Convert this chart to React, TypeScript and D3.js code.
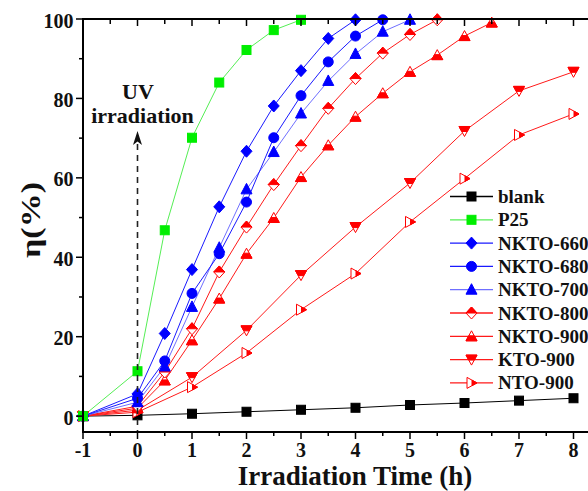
import React from "react";
import * as d3 from "d3";

const xTicks = [-1, 0, 1, 2, 3, 4, 5, 6, 7, 8];
const xMinorTicks = [-0.5, 0.5, 1.5, 2.5, 3.5, 4.5, 5.5, 6.5, 7.5];
const yTicks = [0, 20, 40, 60, 80, 100];
const yMinorTicks = [10, 30, 50, 70, 90];

const blankX = [-1, 0, 1, 2, 3, 4, 5, 6, 7, 8];
const blankY = [0, 0.2, 0.6, 1.1, 1.6, 2.1, 2.8, 3.3, 3.9, 4.5];
const p25X = [-1, 0, 0.5, 1, 1.5, 2, 2.5, 3];
const p25Y = [0, 11.3, 46.8, 70.1, 84.0, 92.2, 97.2, 99.8];
const nkto660X = [-1, 0, 0.5, 1, 1.5, 2, 2.5, 3, 3.5, 4];
const nkto660Y = [0, 5.6, 20.8, 36.9, 52.7, 66.7, 78.1, 87.0, 95.1, 99.8];
const nkto680X = [-1, 0, 0.5, 1, 1.5, 2, 2.5, 3, 3.5, 4, 4.5];
const nkto680Y = [0, 4.5, 13.9, 30.9, 40.9, 53.9, 70.1, 80.7, 89.2, 95.7, 99.8];
const nkto700X = [-1, 0, 0.5, 1, 1.5, 2, 2.5, 3, 3.5, 4, 4.5, 5];
const nkto700Y = [0, 3.5, 12.5, 27.5, 42.4, 57.1, 66.5, 76.2, 84.4, 91.2, 96.8, 99.8];
const nkto800X = [-1, 0, 0.5, 1, 1.5, 2, 2.5, 3, 3.5, 4, 4.5, 5, 5.5];
const nkto800Y = [0, 2.5, 11.1, 22.0, 36.3, 47.6, 58.3, 68.1, 77.5, 85.0, 91.4, 96.1, 99.8];
const nkto900X = [-1, 0, 0.5, 1, 1.5, 2, 2.5, 3, 3.5, 4, 4.5, 5, 5.5, 6, 6.5];
const nkto900Y = [0, 2.0, 9.0, 19.1, 29.6, 40.9, 49.9, 60.2, 68.2, 75.4, 81.3, 86.7, 90.9, 95.7, 99.1];
const kto900X = [-1, 0, 1, 2, 3, 4, 5, 6, 7, 8];
const kto900Y = [0, 1.5, 9.8, 21.6, 35.5, 47.6, 58.7, 71.8, 81.9, 86.7];
const nto900X = [-1, 0, 1, 2, 3, 4, 5, 6, 7, 8];
const nto900Y = [0, 1.0, 7.3, 15.9, 26.8, 35.9, 48.9, 59.8, 70.8, 76.1];

type Sym = "square" | "diamond" | "circle" | "triUp" | "halfDiamond" | "halfTriUp" | "halfTriDown" | "halfTriRight";

interface Series {
  name: string;
  xs: number[];
  ys: number[];
  line: string;
  color: string;
  sym: Sym;
}

const series: Series[] = [
  { name: "blank", xs: blankX, ys: blankY, line: "#000000", color: "#000000", sym: "square" },
  { name: "P25", xs: p25X, ys: p25Y, line: "#55ee55", color: "#00ee00", sym: "square" },
  { name: "NKTO-660", xs: nkto660X, ys: nkto660Y, line: "#1a1aff", color: "#0000ff", sym: "diamond" },
  { name: "NKTO-680", xs: nkto680X, ys: nkto680Y, line: "#1a1aff", color: "#0000ff", sym: "circle" },
  { name: "NKTO-700", xs: nkto700X, ys: nkto700Y, line: "#6f6fff", color: "#0000ff", sym: "triUp" },
  { name: "NKTO-800", xs: nkto800X, ys: nkto800Y, line: "#ff1a1a", color: "#ff0000", sym: "halfDiamond" },
  { name: "NKTO-900", xs: nkto900X, ys: nkto900Y, line: "#ff1a1a", color: "#ff0000", sym: "halfTriUp" },
  { name: "KTO-900", xs: kto900X, ys: kto900Y, line: "#ff1a1a", color: "#ff0000", sym: "halfTriDown" },
  { name: "NTO-900", xs: nto900X, ys: nto900Y, line: "#ff1a1a", color: "#ff0000", sym: "halfTriRight" },
];

const drawOrder = [0, 8, 7, 6, 5, 4, 3, 2, 1];

const W = 588;
const H = 491;
const x = d3.scaleLinear().domain([-1, 8.5]).range([83, 83 + 9.5 * 54.5]);
const y = d3.scaleLinear().domain([-4, 100]).range([432, 19]);

const poly = (pts: [number, number][]) => "M" + pts.map((p) => p.join(",")).join("L") + "Z";

function Marker({ sym, cx, cy, color }: { sym: Sym; cx: number; cy: number; color: string }) {
  const sw = 1;
  switch (sym) {
    case "square":
      return <rect x={cx - 4.5} y={cy - 4.5} width={9} height={9} fill={color} stroke={color} strokeWidth={sw} />;
    case "circle":
      return <circle cx={cx} cy={cy} r={5} fill={color} stroke={color} strokeWidth={sw} />;
    case "diamond":
      return <path d={poly([[cx, cy - 6], [cx + 5.5, cy], [cx, cy + 6], [cx - 5.5, cy]])} fill={color} stroke={color} strokeWidth={sw} />;
    case "triUp":
      return <path d={poly([[cx, cy - 6], [cx + 5.5, cy + 4.5], [cx - 5.5, cy + 4.5]])} fill={color} stroke={color} strokeWidth={sw} />;
    case "halfDiamond":
      return (
        <g>
          <path d={poly([[cx, cy - 6], [cx + 5.5, cy], [cx, cy + 6], [cx - 5.5, cy]])} fill="#fff" stroke={color} strokeWidth={sw} />
          <path d={poly([[cx, cy - 6], [cx + 5.5, cy], [cx - 5.5, cy]])} fill={color} stroke={color} strokeWidth={sw} />
        </g>
      );
    case "halfTriUp": {
      const t = cy - 5.5, b = cy + 4.5, hw = 5.5;
      const m = (t + b) / 2;
      const mw = hw * ((m - t) / (b - t));
      return (
        <g>
          <path d={poly([[cx, t], [cx + hw, b], [cx - hw, b]])} fill="#fff" stroke={color} strokeWidth={sw} />
          <path d={poly([[cx - mw, m], [cx + mw, m], [cx + hw, b], [cx - hw, b]])} fill={color} stroke={color} strokeWidth={sw} />
        </g>
      );
    }
    case "halfTriDown": {
      const t = cy - 4.5, b = cy + 5.5, hw = 5.5;
      const m = (t + b) / 2;
      const mw = hw * ((b - m) / (b - t));
      return (
        <g>
          <path d={poly([[cx - hw, t], [cx + hw, t], [cx, b]])} fill="#fff" stroke={color} strokeWidth={sw} />
          <path d={poly([[cx - hw, t], [cx + hw, t], [cx + mw, m], [cx - mw, m]])} fill={color} stroke={color} strokeWidth={sw} />
        </g>
      );
    }
    case "halfTriRight": {
      const l = cx - 4.5, r = cx + 5.5, hh = 5.5;
      const m = (l + r) / 2;
      const mh = hh * ((r - m) / (r - l));
      return (
        <g>
          <path d={poly([[l, cy - hh], [r, cy], [l, cy + hh]])} fill="#fff" stroke={color} strokeWidth={sw} />
          <path d={poly([[m, cy - mh], [r, cy], [m, cy + mh]])} fill={color} stroke={color} strokeWidth={sw} />
        </g>
      );
    }
  }
  return null;
}

export default function App() {
  const lineGen = d3
    .line<[number, number]>()
    .x((d) => x(d[0]))
    .y((d) => y(d[1]));
  const font = "'Liberation Serif', 'Times New Roman', serif";
  const legX = 450;
  const legY0 = 196.5;
  const legDy = 23.3;
  const arrowX = x(0);

  return (
    <div style={{ position: "absolute", left: 0, top: 0 }}>
      <svg width={W} height={H} style={{ display: "block", background: "#fff" }} fontFamily={font}>
        {drawOrder.map((i) => {
          const s = series[i];
          const pts = s.xs.map((v, k) => [v, s.ys[k]] as [number, number]);
          return (
            <g key={s.name}>
              <path d={lineGen(pts) || ""} fill="none" stroke={s.line} strokeWidth={1} />
            </g>
          );
        })}
        {drawOrder.map((i) => {
          const s = series[i];
          return (
            <g key={s.name + "m"}>
              {s.xs.map((v, k) => (
                <Marker key={k} sym={s.sym} cx={x(v)} cy={y(s.ys[k])} color={s.color} />
              ))}
            </g>
          );
        })}

        <line x1={arrowX} x2={arrowX} y1={144} y2={432} stroke="#222" strokeWidth={1.6} strokeDasharray="6,5" />
        <path d={poly([[arrowX, 131], [arrowX + 4.5, 145], [arrowX, 141.5], [arrowX - 4.5, 145]])} fill="#111" />
        <text x={138} y={99} textAnchor="middle" fontSize={22} fontWeight="bold" fill="#111">UV</text>
        <text x={142.5} y={122.5} textAnchor="middle" fontSize={22} fontWeight="bold" fill="#111">irradiation</text>

        <line x1={83} x2={W} y1={19} y2={19} stroke="#000" strokeWidth={2} />
        <line x1={83} x2={W} y1={432} y2={432} stroke="#000" strokeWidth={2} />
        <line x1={83} x2={83} y1={18} y2={433} stroke="#000" strokeWidth={2} />
        {xTicks.map((t) => (
          <g key={"xt" + t}>
            <line x1={x(t)} x2={x(t)} y1={432} y2={439} stroke="#000" strokeWidth={1.5} />
            <line x1={x(t)} x2={x(t)} y1={19} y2={26} stroke="#000" strokeWidth={1.5} />
            <text x={x(t)} y={456.5} textAnchor="middle" fontSize={20} fontWeight="bold" fill="#111">
              {String(t)}
            </text>
          </g>
        ))}
        {xMinorTicks.map((t) => (
          <g key={"xm" + t}>
            <line x1={x(t)} x2={x(t)} y1={432} y2={436} stroke="#000" strokeWidth={1.5} />
            <line x1={x(t)} x2={x(t)} y1={19} y2={24} stroke="#000" strokeWidth={1.5} />
          </g>
        ))}
        {yTicks.map((t) => (
          <g key={"yt" + t}>
            <line x1={76} x2={83} y1={y(t)} y2={y(t)} stroke="#000" strokeWidth={1.5} />
            <text x={73.5} y={y(t) + 8.5} textAnchor="end" fontSize={20} fontWeight="bold" fill="#111">
              {String(t)}
            </text>
          </g>
        ))}
        {yMinorTicks.map((t) => (
          <line key={"ym" + t} x1={79} x2={83} y1={y(t)} y2={y(t)} stroke="#000" strokeWidth={1.5} />
        ))}

        <text x={355} y={485} textAnchor="middle" fontSize={27} fontWeight="bold" fill="#111">
          Irradiation Time (h)
        </text>
        <text
          transform="translate(40,220) rotate(-90)"
          textAnchor="middle"
          fontSize={27}
          fontWeight="bold"
          fill="#111"
          textLength={76}
          lengthAdjust="spacingAndGlyphs"
        >
          η(%)
        </text>

        {series.map((s, i) => {
          const ly = legY0 + i * legDy;
          return (
            <g key={"lg" + s.name}>
              <line x1={legX} x2={legX + 43} y1={ly} y2={ly} stroke={s.line} strokeWidth={1.3} />
              <Marker sym={s.sym} cx={legX + 21.5} cy={ly} color={s.color} />
              <text x={498} y={ly + 6.5} fontSize={19} fontWeight="bold" fill="#111">
                {s.name}
              </text>
            </g>
          );
        })}
      </svg>
    </div>
  );
}
